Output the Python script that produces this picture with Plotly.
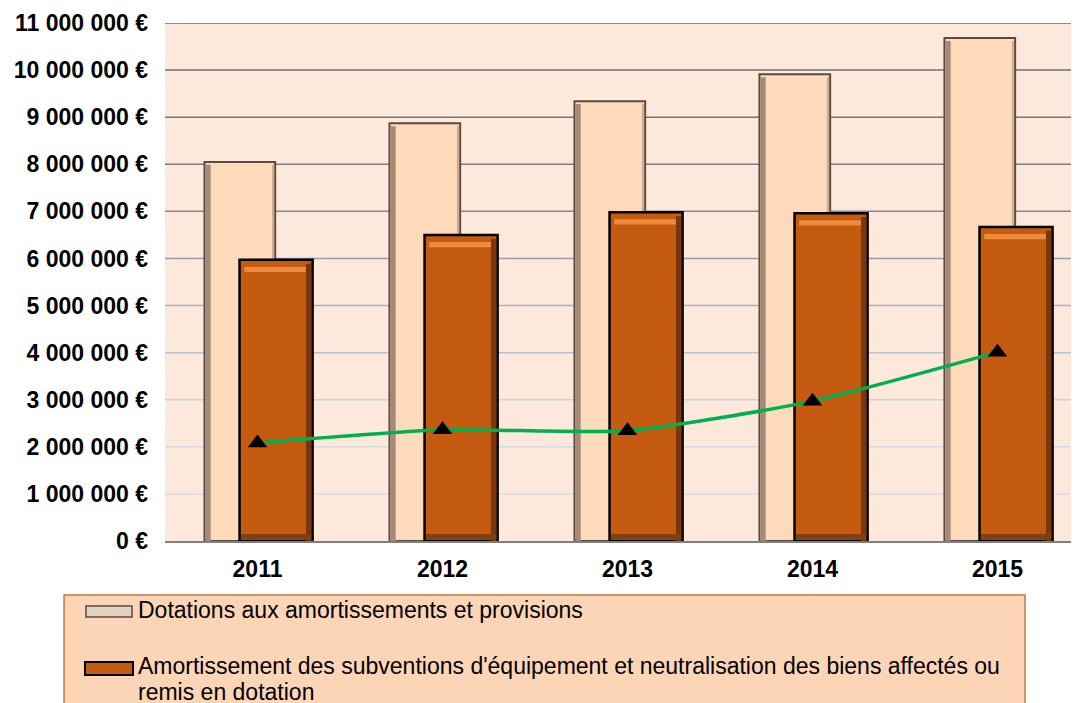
import plotly.graph_objects as go

# data
years = ["2011", "2012", "2013", "2014", "2015"]
dotations = [8050000, 8870000, 9340000, 9910000, 10680000]
subventions = [5970000, 6500000, 6980000, 6960000, 6670000]
ligne = [2080000, 2360000, 2340000, 2970000, 4010000]

y_ticks = [0, 1000000, 2000000, 3000000, 4000000, 5000000, 6000000,
           7000000, 8000000, 9000000, 10000000, 11000000]
y_ticktext = ["0 €", "1 000 000 €", "2 000 000 €", "3 000 000 €", "4 000 000 €",
              "5 000 000 €", "6 000 000 €", "7 000 000 €", "8 000 000 €",
              "9 000 000 €", "10 000 000 €", "11 000 000 €"]

legend_line1 = "Dotations aux amortissements et provisions"
legend_line2 = "Amortissement des subventions d'équipement et neutralisation des biens affectés ou"
legend_line3 = "remis en dotation"

light = "#FDDAB9"
dark = "#C55A11"
font_family = "Liberation Sans, Arial, sans-serif"

# gridlines fade from dark grey at the top to pale blue at the bottom
grid_colors = ["#7F7F7F", "#D6DDEA", "#D2D9E7", "#C9D1E2", "#B8C2D6", "#A9B2C6",
               "#979CAA", "#858890", "#7A7C80", "#747474", "#6F6F6F", "#6A6A6A"]

fig = go.Figure()

for val, col in zip(y_ticks[1:], grid_colors[1:]):
    fig.add_shape(type="line", xref="paper", yref="y", x0=0, x1=1, y0=val, y1=val,
                  line=dict(color=col, width=1.5), layer="below")

# light bars + bevel strips
fig.add_trace(go.Bar(
    x=years, y=dotations,
    offset=-0.2865, width=0.382,
    marker=dict(color=light, line=dict(color="#5A4A40", width=2)),
))
fig.add_trace(go.Bar(
    x=years, y=[v - 60000 for v in dotations],
    offset=-0.281, width=0.028,
    marker=dict(color="#A58A77", line=dict(width=0)),
))
fig.add_trace(go.Bar(
    x=years, y=[v - 60000 for v in dotations],
    offset=0.078, width=0.012,
    marker=dict(color="#CDAE95", line=dict(width=0)),
))

# dark bars + bevel strips
fig.add_trace(go.Bar(
    x=years, y=subventions,
    offset=-0.097, width=0.395,
    marker=dict(color=dark, line=dict(color="#000000", width=2.5)),
))
fig.add_trace(go.Bar(
    x=years, y=[110000] * len(years), base=[v - 260000 for v in subventions],
    offset=-0.072, width=0.345,
    marker=dict(color="#EE8A3C", line=dict(width=0)),
))
fig.add_trace(go.Bar(
    x=years, y=[v - 80000 for v in subventions],
    offset=0.262, width=0.028,
    marker=dict(color="#7A360C", line=dict(width=0)),
))
fig.add_trace(go.Bar(
    x=years, y=[110000] * len(years), base=[40000] * len(years),
    offset=-0.090, width=0.38,
    marker=dict(color="#80400F", line=dict(width=0)),
))

fig.add_trace(go.Scatter(
    x=years, y=ligne, mode="lines+markers",
    line=dict(color="#00B050", width=3.5, shape="spline", smoothing=0.6),
    marker=dict(symbol="triangle-up", size=17, color="#000000"),
))

# legend box (the original legend is cut off at the bottom)
fig.add_shape(type="rect", xref="paper", yref="paper",
              x0=-0.1095, x1=0.9328, y0=-0.34, y1=-0.1042,
              fillcolor="#FBD5B5", line=dict(color="#C07A40", width=1.5))
fig.add_shape(type="rect", xref="paper", yref="paper",
              x0=-0.0857, x1=-0.0358, y0=-0.1467, y1=-0.1255,
              fillcolor="#E2D3C3", line=dict(color="#5A4A40", width=1.5))
fig.add_shape(type="rect", xref="paper", yref="paper",
              x0=-0.0868, x1=-0.0347, y0=-0.2587, y1=-0.2336,
              fillcolor=dark, line=dict(color="#000000", width=2))
legend_font = dict(family=font_family, size=23, color="#000000")
for txt, ypos in [(legend_line1, -0.1332), (legend_line2, -0.2413), (legend_line3, -0.2915)]:
    fig.add_annotation(xref="paper", yref="paper", x=-0.0315, y=ypos,
                       text=txt, showarrow=False, xanchor="left", yanchor="middle",
                       font=legend_font)

# the page adds an 8px body margin, so margins are shifted to compensate
fig.update_layout(
    width=1079, height=703,
    margin=dict(l=157, r=0, t=15, b=170),
    paper_bgcolor="#FFFFFF",
    plot_bgcolor="#FCE9DB",
    barmode="overlay",
    showlegend=False,
    font=dict(family=font_family, color="#000000"),
    xaxis=dict(
        type="category", range=[-0.5, 4.484], automargin=False,
        showgrid=False, showline=True, linecolor="#7F7F7F", linewidth=2,
        ticks="", tickfont=dict(size=23, family=font_family, weight="bold"),
        ticklabelstandoff=6,
    ),
    yaxis=dict(
        range=[0, 11000000], tickvals=y_ticks, ticktext=y_ticktext,
        showgrid=False, zeroline=False, ticks="", automargin=False,
        tickfont=dict(size=23, family=font_family, weight="bold"),
        ticklabelstandoff=16,
    ),
)

fig.write_html("out.html")
